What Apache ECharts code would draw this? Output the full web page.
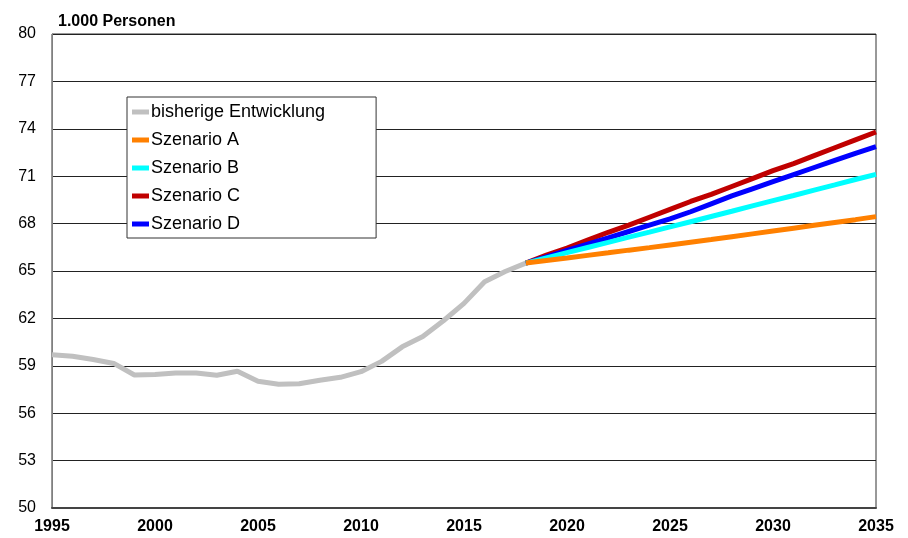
<!DOCTYPE html>
<html>
<head>
<meta charset="utf-8">
<script src="https://cdn.jsdelivr.net/npm/echarts@6/dist/echarts.min.js"></script>
<style>
  html, body { margin: 0; padding: 0; background: #fff; }
  #chart { width: 908px; height: 538px; }
</style>
</head>
<body>
<div id="chart"></div>
<script>
// historical values 1995-2018
const histYears = [1995, 1996, 1997, 1998, 1999, 2000, 2001, 2002, 2003, 2004, 2005, 2006,
  2007, 2008, 2009, 2010, 2011, 2012, 2013, 2014, 2015, 2016, 2017, 2018];
const histValues = [59.7, 59.6, 59.4, 59.15, 58.42, 58.45, 58.55, 58.55, 58.4, 58.65, 58.02, 57.83,
  57.86, 58.08, 58.27, 58.63, 59.28, 60.2, 60.85, 61.85, 62.95, 64.32, 64.97, 65.5];

// scenarios 2018-2035
const scenYears = [2018, 2019, 2020, 2021, 2022, 2023, 2024, 2025, 2026, 2027, 2028, 2029,
  2030, 2031, 2032, 2033, 2034, 2035];
const scenA = [65.5, 65.66, 65.82, 65.99, 66.15, 66.32, 66.48, 66.65, 66.82, 66.99, 67.17, 67.35,
  67.53, 67.71, 67.89, 68.07, 68.25, 68.44];
const scenB = [65.5, 65.83, 66.16, 66.49, 66.81, 67.14, 67.46, 67.79, 68.12, 68.45, 68.78, 69.12,
  69.45, 69.78, 70.12, 70.45, 70.79, 71.12];
const scenC = [65.5, 66.0, 66.45, 66.95, 67.45, 67.9, 68.4, 68.9, 69.4, 69.85, 70.35, 70.85,
  71.35, 71.8, 72.3, 72.8, 73.3, 73.8];
const scenD = [65.5, 65.9, 66.3, 66.7, 67.1, 67.5, 67.9, 68.3, 68.75, 69.25, 69.75, 70.2,
  70.65, 71.1, 71.55, 72.0, 72.45, 72.87];

const legendNames = ["bisherige Entwicklung", "Szenario A", "Szenario B", "Szenario C", "Szenario D"];
const yTicks = [50, 53, 56, 59, 62, 65, 68, 71, 74, 77, 80];

const font = "'Liberation Sans', Arial, sans-serif";
const pairs = (xs, ys) => xs.map((x, i) => [x, ys[i]]);

const lineSeries = (name, xs, ys, color) => ({
  name,
  type: "line",
  data: pairs(xs, ys),
  showSymbol: false,
  symbol: "none",
  lineStyle: { width: 5, color },
  itemStyle: { color },
});

const chart = echarts.init(document.getElementById("chart"));
chart.setOption({
  animation: false,
  backgroundColor: "#fff",
  title: {
    text: "1.000 Personen",
    left: 53,
    top: 9,
    textStyle: { fontFamily: font, fontSize: 16, fontWeight: "bold", color: "#000" },
  },
  legend: {
    data: legendNames,
    orient: "vertical",
    left: 127,
    top: 97,
    padding: [6, 51, 5, 5],
    itemGap: 10,
    itemWidth: 17,
    itemHeight: 5,
    icon: "rect",
    backgroundColor: "#fff",
    borderColor: "#333",
    borderWidth: 1,
    borderRadius: 0,
    textStyle: { fontFamily: font, fontSize: 18, color: "#000", padding: [0, 0, 0, -3] },
  },
  grid: {
    left: 52,
    right: 32,
    top: 34,
    bottom: 30,
    show: true,
    borderColor: "#333",
    borderWidth: 1,
  },
  xAxis: {
    type: "value",
    min: 1995,
    max: 2035,
    interval: 5,
    axisLine: { show: true, lineStyle: { color: "#444", width: 2 } },
    axisTick: { show: false },
    splitLine: { show: false },
    axisLabel: {
      margin: 11,
      fontFamily: font,
      fontSize: 16,
      fontWeight: "bold",
      color: "#000",
      formatter: (v) => String(v),
    },
  },
  yAxis: {
    type: "value",
    min: yTicks[0],
    max: yTicks[yTicks.length - 1],
    interval: 3,
    axisLine: { show: true, lineStyle: { color: "#808080", width: 1 } },
    axisTick: { show: false },
    splitLine: { show: true, lineStyle: { color: "#222", width: 1 } },
    axisLabel: { margin: 16, fontFamily: font, fontSize: 16, color: "#000" },
  },
  series: [
    lineSeries(legendNames[0], histYears, histValues, "#c0c0c0"),
    lineSeries(legendNames[3], scenYears, scenC, "#c00000"),
    lineSeries(legendNames[4], scenYears, scenD, "#0000ff"),
    lineSeries(legendNames[2], scenYears, scenB, "#00ffff"),
    lineSeries(legendNames[1], scenYears, scenA, "#ff8000"),
  ],
});
</script>
</body>
</html>
